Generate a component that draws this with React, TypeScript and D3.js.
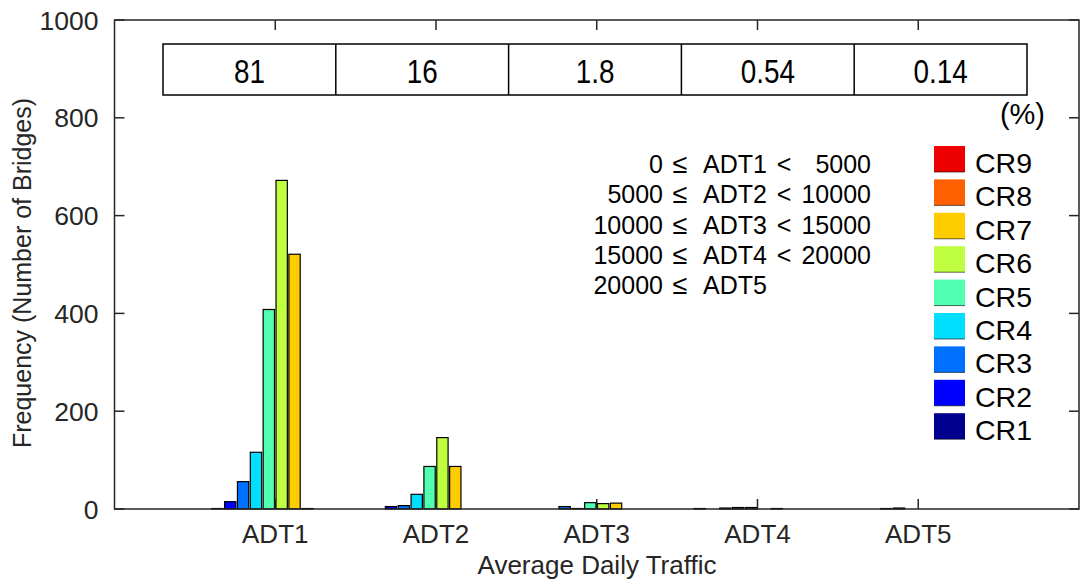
import React from 'react';
import * as d3 from 'd3';

const categories = ['ADT1', 'ADT2', 'ADT3', 'ADT4', 'ADT5'];
const seriesNames = ['CR1', 'CR2', 'CR3', 'CR4', 'CR5', 'CR6', 'CR7', 'CR8', 'CR9'];
const seriesColors = ['#00008F', '#0000FF', '#0070FF', '#00DFFF', '#50FFAF', '#BFFF40', '#FFCC00', '#FF6000', '#EE0000'];
const CR1 = [1, 0, 0, 1, 0];
const CR2 = [15, 5, 0, 0, 0];
const CR3 = [56, 7, 5, 2, 1];
const CR4 = [116, 30, 1, 3, 2];
const CR5 = [408, 87, 13, 3, 0];
const CR6 = [672, 146, 11, 0, 0];
const CR7 = [521, 87, 12, 1, 0];
const CR8 = [1, 0, 0, 0, 0];
const CR9 = [0, 0, 0, 0, 0];
const seriesValues = [CR1, CR2, CR3, CR4, CR5, CR6, CR7, CR8, CR9];
const percentLabels = ['81', '16', '1.8', '0.54', '0.14'];
const yTicks = [0, 200, 400, 600, 800, 1000];
const rangeLow = ['0', '5000', '10000', '15000', '20000'];
const rangeHigh = ['5000', '10000', '15000', '20000', ''];

const W = 1081;
const H = 579;
const FONT = '"Liberation Sans", Arial, Helvetica, sans-serif';
const AX = '#262626';

export default function App() {
  const x = d3.scaleLinear().domain([0, 6]).range([114.5, 1079]);
  const y = d3.scaleLinear().domain([0, 1000]).range([509, 20]);
  // 10 slots per group (the last one is empty), like MATLAB's grouped bars
  const slots = [...seriesNames, '_'];
  const half = x(0.4) - x(0);
  const inner = d3.scaleBand<string>().domain(slots).range([-half, half]).paddingInner(0.12).paddingOuter(0.06);

  const tickLen = 10;
  const left = x(0), right = x(6), top = y(1000), bottom = y(0);

  const tableLeft = 163, tableRight = 1027, tableTop = 44, tableBottom = 95;
  const cell = d3.scaleBand<string>().domain(percentLabels.map((_, i) => String(i))).range([tableLeft, tableRight]);

  const legendTop = 146, legendStep = 33.4;
  const legendOrder = [...seriesNames].reverse();

  return (
    <svg width={W} height={H} style={{ position: 'absolute', left: 0, top: 0, background: '#fff' }} fontFamily={FONT}>
      <rect x={0} y={0} width={W} height={H} fill="#fff" />
      {/* bars */}
      {seriesValues.map((vals, si) =>
        vals.map((v, ci) => {
          if (v <= 0) return null;
          const cx = x(ci + 1) + (inner(seriesNames[si]) as number);
          const h = bottom - y(v);
          return (
            <rect key={`${si}-${ci}`} x={cx} y={y(v)} width={inner.bandwidth()} height={h}
              fill={seriesColors[si]} stroke="#000" strokeWidth={1.2} />
          );
        })
      )}
      {/* axes box */}
      <rect x={left} y={top} width={right - left} height={bottom - top} fill="none" stroke={AX} strokeWidth={1.5} />
      {/* y ticks */}
      {yTicks.map(t => (
        <g key={`y${t}`}>
          <line x1={left} x2={left + tickLen} y1={y(t)} y2={y(t)} stroke={AX} strokeWidth={1.5} />
          <line x1={right} x2={right - tickLen} y1={y(t)} y2={y(t)} stroke={AX} strokeWidth={1.5} />
          <text x={left - 16} y={y(t) + 9.5} textAnchor="end" fontSize={26.5} fill={AX}>{t}</text>
        </g>
      ))}
      {/* x ticks */}
      {categories.map((c, i) => (
        <g key={c}>
          <line x1={x(i + 1)} x2={x(i + 1)} y1={bottom} y2={bottom - tickLen} stroke={AX} strokeWidth={1.5} />
          <line x1={x(i + 1)} x2={x(i + 1)} y1={top} y2={top + tickLen} stroke={AX} strokeWidth={1.5} />
          <text x={x(i + 1)} y={543} textAnchor="middle" fontSize={26} fill={AX}>{c}</text>
        </g>
      ))}
      <text x={597} y={574} textAnchor="middle" fontSize={26} fill={AX}>Average Daily Traffic</text>
      <text transform={`translate(31,273) rotate(-90)`} textAnchor="middle" fontSize={25} fill={AX}>Frequency (Number of Bridges)</text>

      {/* percentage table */}
      <rect x={tableLeft} y={tableTop} width={tableRight - tableLeft} height={tableBottom - tableTop} fill="#fff" stroke="#000" strokeWidth={1.5} />
      {percentLabels.map((p, i) => {
        const cx0 = cell(String(i)) as number;
        const cx = cx0 + cell.bandwidth() / 2;
        return (
          <g key={`p${i}`}>
            {i > 0 && <line x1={cx0} x2={cx0} y1={tableTop} y2={tableBottom} stroke="#000" strokeWidth={1.5} />}
            <text transform={`translate(${cx},83) scale(0.82,1)`} textAnchor="middle" fontSize={34} fill="#000">{p}</text>
          </g>
        );
      })}
      <text x={1045} y={124} textAnchor="end" fontSize={29} fill="#000">(%)</text>

      {/* ADT ranges */}
      {categories.map((c, i) => {
        const by = 173 + i * 30.3;
        return (
          <g key={`r${i}`} fontSize={25} fill="#000">
            <text x={663} y={by} textAnchor="end">{rangeLow[i]}</text>
            <text x={680} y={by} textAnchor="middle" fontSize={27}>≤</text>
            <text x={703} y={by}>{c}</text>
            {rangeHigh[i] && <text x={784} y={by} textAnchor="middle">&lt;</text>}
            {rangeHigh[i] && <text x={871} y={by} textAnchor="end">{rangeHigh[i]}</text>}
          </g>
        );
      })}

      {/* legend */}
      {legendOrder.map((name, i) => {
        const si = seriesNames.indexOf(name);
        const ty = legendTop + i * legendStep;
        return (
          <g key={`l${name}`}>
            <rect x={934} y={ty} width={31} height={26} fill={seriesColors[si]} />
            <line x1={934} x2={965} y1={ty + 26} y2={ty + 26} stroke="#000" strokeOpacity={0.6} strokeWidth={1} />
            <text x={975} y={ty + 27} fontSize={28.5} fill="#000">{name}</text>
          </g>
        );
      })}
    </svg>
  );
}
